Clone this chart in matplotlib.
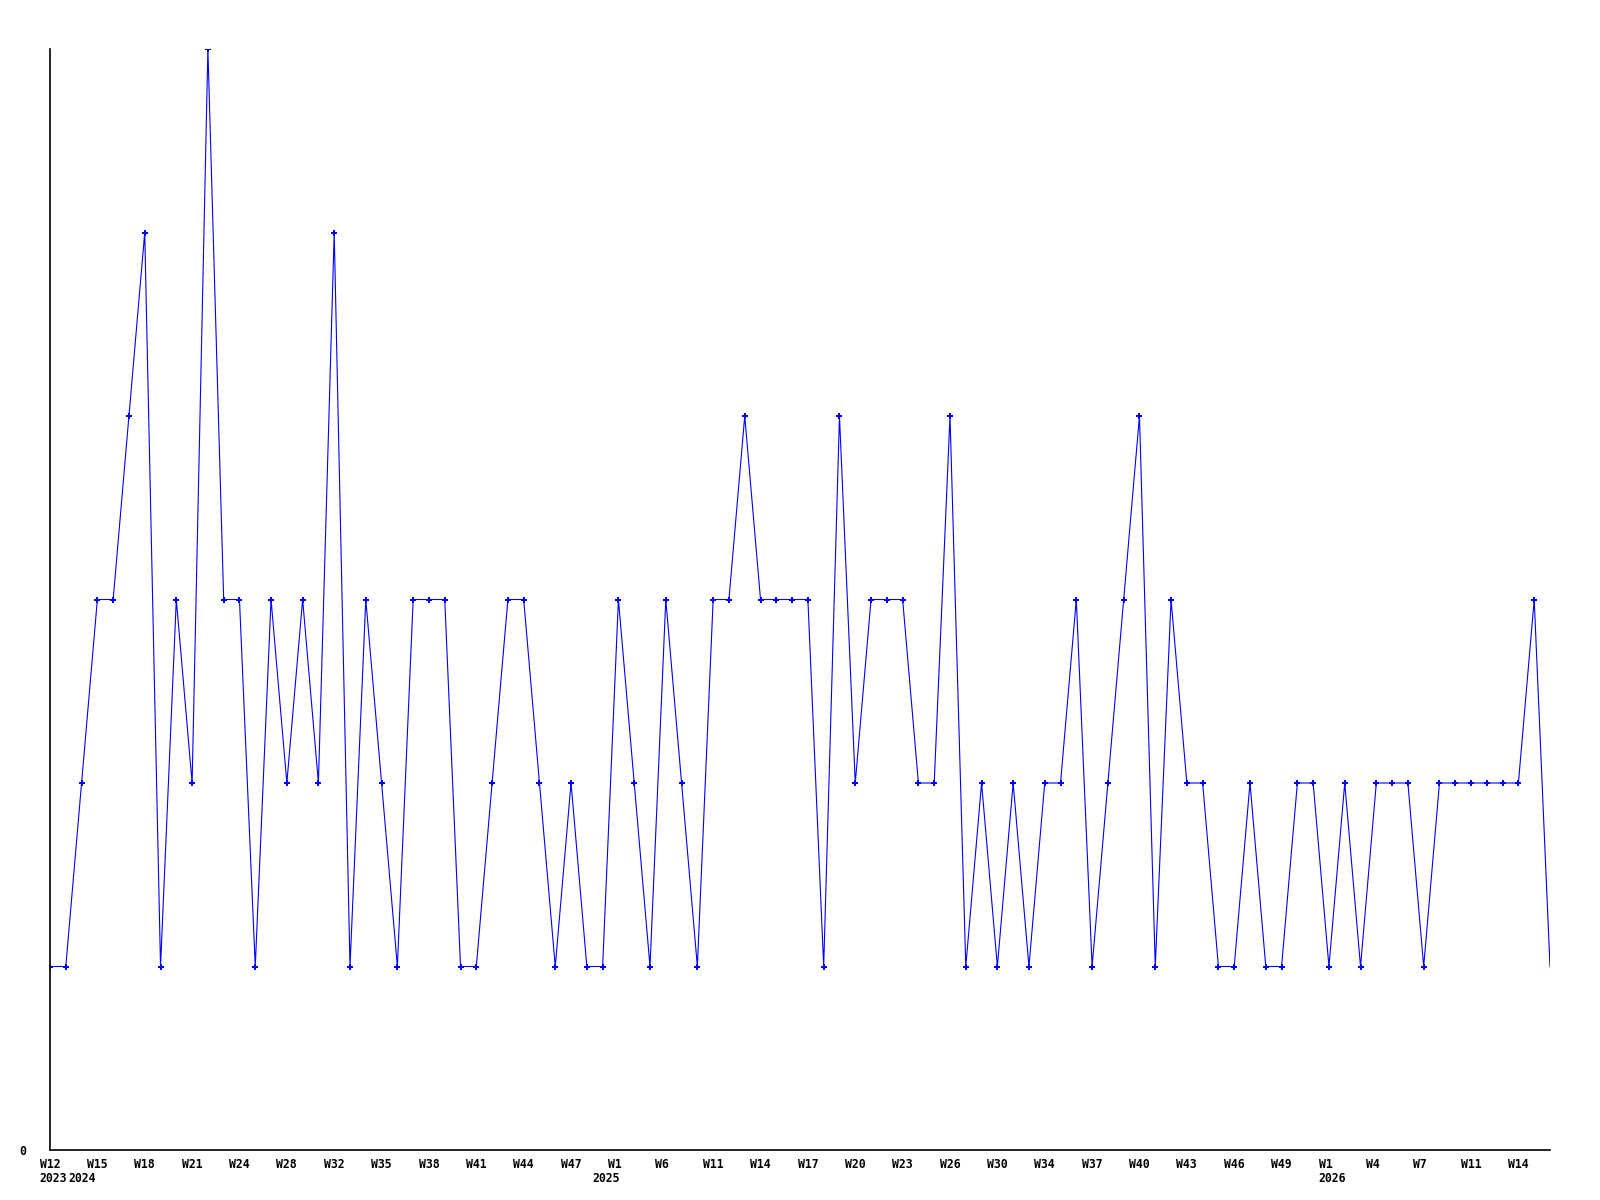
import matplotlib
matplotlib.use("Agg")
import matplotlib.pyplot as plt
import matplotlib.transforms as mtransforms
import numpy as np

# weekly counts, one per point
values = [1, 1, 2, 3, 3, 4, 5, 1, 3, 2, 6, 3, 3, 1, 3, 2, 3, 2, 5, 1,
          3, 2, 1, 3, 3, 3, 1, 1, 2, 3, 3, 2, 1, 2, 1, 1, 3, 2, 1, 3,
          2, 1, 3, 3, 4, 3, 3, 3, 3, 1, 4, 2, 3, 3, 3, 2, 2, 4, 1, 2,
          1, 2, 1, 2, 2, 3, 1, 2, 3, 4, 1, 3, 2, 2, 1, 1, 2, 1, 1, 2,
          2, 1, 2, 1, 2, 2, 2, 1, 2, 2, 2, 2, 2, 2, 3, 1]

week_labels = ["W12", "W15", "W18", "W21", "W24", "W28", "W32", "W35", "W38",
               "W41", "W44", "W47", "W1", "W6", "W11", "W14", "W17", "W20",
               "W23", "W26", "W30", "W34", "W37", "W40", "W43", "W46", "W49",
               "W1", "W4", "W7", "W11", "W14"]
week_ticks = list(range(0, 96, 3))

year_labels = ["2023", "2024", "2025", "2026"]
year_pos = [0, 1.85, 35, 81]

font = dict(family="DejaVu Sans Mono", weight="bold", size=8.3)

fig = plt.figure(figsize=(16, 12), dpi=100)
ax = fig.add_axes([50 / 1600, 50 / 1200, 1500 / 1600, 1101 / 1200])

x = np.arange(len(values))
ax.plot(x, values, color="#0000ff", linewidth=0.8, marker="P", markersize=4.5,
        markeredgewidth=0, markevery=slice(0, len(values) - 1))

ax.set_xlim(0, len(values) - 1)
ax.set_ylim(0, 6)

for s in ["top", "right"]:
    ax.spines[s].set_visible(False)
for s in ["left", "bottom"]:
    ax.spines[s].set_linewidth(1.2)
    ax.spines[s].set_color("black")

ax.set_xticks([])
ax.set_yticks([0])
ax.set_yticklabels(["0"], **font)
ax.tick_params(axis="y", length=0, pad=17)

# labels sit left aligned, ~10px left of their point
base = mtransforms.blended_transform_factory(ax.transData, ax.transAxes)
week_tr = base + mtransforms.ScaledTranslation(-10.35 / 100, -14 / 100, fig.dpi_scale_trans)
year_tr = base + mtransforms.ScaledTranslation(-10.35 / 100, -29 / 100, fig.dpi_scale_trans)
for pos, lab in zip(week_ticks, week_labels):
    ax.text(pos, 0, lab, transform=week_tr, ha="left", va="center", **font)
for pos, yr in zip(year_pos, year_labels):
    ax.text(pos, 0, yr, transform=year_tr, ha="left", va="center", **font)

fig.savefig("out.png", dpi=100)
